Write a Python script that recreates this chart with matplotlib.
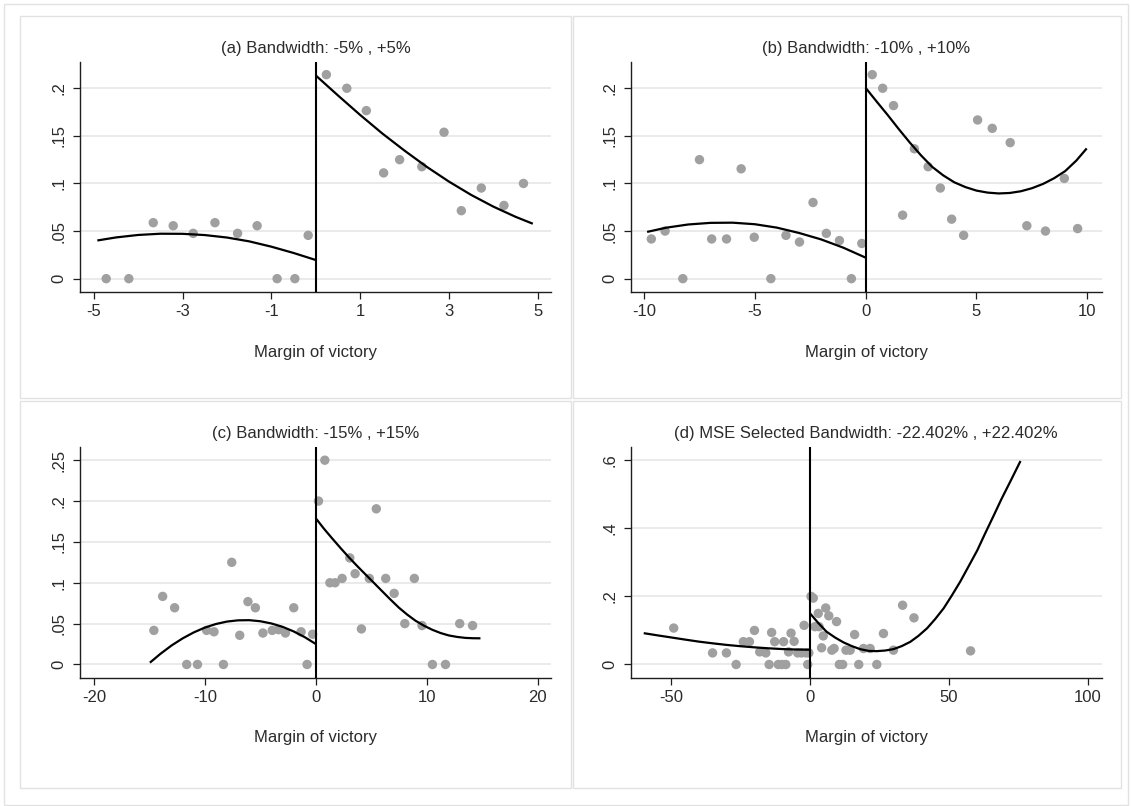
import matplotlib
matplotlib.use("Agg")
import matplotlib.pyplot as plt
from matplotlib.patches import Rectangle

plt.rcParams['font.family'] = ['Liberation Sans', 'DejaVu Sans']

W, H = 1131, 806

# ---------------- Panel (a) ----------------
a_title = "(a) Bandwidth: -5% , +5%"
a_left_x = [-4.72, -4.21, -3.66, -3.21, -2.76, -2.27, -1.76, -1.32, -0.87, -0.47, -0.17]
a_left_y = [0.0, 0.0, 0.0588, 0.0556, 0.0476, 0.0588, 0.0476, 0.0556, 0.0, 0.0, 0.0455]
a_right_x = [0.24, 0.70, 1.14, 1.53, 1.89, 2.39, 2.89, 3.28, 3.73, 4.24, 4.68]
a_right_y = [0.2143, 0.2, 0.1765, 0.1111, 0.125, 0.1176, 0.1538, 0.0714, 0.0952, 0.0769, 0.1]
a_fit_left_x = [-4.92, -4.5, -4.0, -3.5, -3.0, -2.5, -2.0, -1.5, -1.0, -0.5, 0.0]
a_fit_left_y = [0.0401, 0.0433, 0.0459, 0.0472, 0.0471, 0.0458, 0.0432, 0.0392, 0.0336, 0.0270, 0.0196]
a_fit_right_x = [0, 0.5, 1, 1.5, 2, 2.5, 3, 3.5, 4, 4.5, 4.89]
a_fit_right_y = [0.2135, 0.1925, 0.1720, 0.1525, 0.1345, 0.1175, 0.1020, 0.0880, 0.0757, 0.0650, 0.0577]
a_xticks = [-5, -3, -1, 1, 3, 5]
a_xlabels = ["-5", "-3", "-1", "1", "3", "5"]
a_yticks = [0, 0.05, 0.1, 0.15, 0.2]
a_ylabels = ["0", ".05", ".1", ".15", ".2"]

# ---------------- Panel (b) ----------------
b_title = "(b) Bandwidth: -10% , +10%"
b_left_x = [-9.66, -9.04, -8.24, -7.49, -6.94, -6.27, -5.61, -5.02, -4.27, -3.59, -2.98, -2.37, -1.77, -1.18, -0.64, -0.17]
b_left_y = [0.0417, 0.05, 0.0, 0.125, 0.0417, 0.0417, 0.1154, 0.0435, 0.0, 0.0455, 0.0385, 0.08, 0.0476, 0.04, 0.0, 0.037]
b_right_x = [0.30, 0.77, 1.26, 1.67, 2.20, 2.82, 3.37, 3.88, 4.42, 5.05, 5.71, 6.52, 7.27, 8.11, 8.96, 9.56]
b_right_y = [0.2143, 0.2, 0.1818, 0.0667, 0.1364, 0.1176, 0.0952, 0.0625, 0.0455, 0.1667, 0.1579, 0.1429, 0.0556, 0.05, 0.1053, 0.0526]
b_fit_left_x = [-9.85, -9, -8, -7, -6, -5, -4, -3, -2, -1, 0]
b_fit_left_y = [0.0491, 0.0535, 0.0569, 0.0586, 0.0588, 0.0572, 0.0536, 0.0480, 0.0412, 0.0325, 0.0221]
b_fit_right_x = [0, 0.5, 1, 1.5, 2, 2.5, 3, 3.5, 4, 4.5, 5, 5.5, 6, 6.5, 7, 7.5, 8, 8.5, 9, 9.5, 9.97]
b_fit_right_y = [0.2005, 0.1860, 0.1718, 0.1570, 0.1428, 0.1295, 0.1175, 0.1085, 0.1012, 0.0962,
                 0.0925, 0.0904, 0.0895, 0.0900, 0.0918, 0.0950, 0.0995, 0.1055, 0.1130, 0.1240, 0.1368]
b_xticks = [-10, -5, 0, 5, 10]
b_xlabels = ["-10", "-5", "0", "5", "10"]
b_yticks = [0, 0.05, 0.1, 0.15, 0.2]
b_ylabels = ["0", ".05", ".1", ".15", ".2"]

# ---------------- Panel (c) ----------------
c_title = "(c) Bandwidth: -15% , +15%"
c_left_x = [-14.59, -13.80, -12.72, -11.63, -10.66, -9.83, -9.17, -8.32, -7.57, -6.85,
            -6.11, -5.44, -4.76, -3.92, -3.34, -2.73, -1.98, -1.32, -0.78, -0.28]
c_left_y = [0.0417, 0.0833, 0.0694, 0.0, 0.0, 0.0417, 0.04, 0.0, 0.125, 0.0357,
            0.0769, 0.0694, 0.0385, 0.0417, 0.0426, 0.0385, 0.0694, 0.04, 0.0, 0.0370]
c_right_x = [0.25, 0.82, 1.28, 1.74, 2.38, 3.07, 3.55, 4.12, 4.83, 5.46, 6.31, 7.07,
             8.03, 8.89, 9.58, 10.52, 11.70, 12.98, 14.14]
c_right_y = [0.2, 0.25, 0.1, 0.1, 0.1053, 0.1304, 0.1111, 0.0435, 0.1053, 0.1905, 0.1053, 0.0870,
             0.05, 0.1053, 0.0476, 0.0, 0.0, 0.05, 0.0476]
c_fit_left_x = [-14.95, -14, -13, -12, -11, -10, -9, -8, -7, -6, -5, -4, -3, -2, -1, 0]
c_fit_left_y = [0.0022, 0.0130, 0.0232, 0.0319, 0.0392, 0.0451, 0.0495, 0.0525, 0.0540, 0.0542,
                0.0529, 0.0502, 0.0461, 0.0405, 0.0335, 0.0251]
c_fit_right_x = [0, 0.75, 1.5, 2.25, 3, 3.75, 4.5, 5.25, 6, 6.75, 7.5, 8.25, 9, 9.75, 10.5,
                 11.25, 12, 12.75, 13.5, 14.2, 14.85]
c_fit_right_y = [0.179, 0.166, 0.154, 0.1423, 0.131, 0.1203, 0.110, 0.0998, 0.0895, 0.0793,
                 0.0695, 0.061, 0.0535, 0.0475, 0.0425, 0.0385, 0.0355, 0.0337, 0.0325, 0.0321, 0.0320]
c_xticks = [-20, -10, 0, 10, 20]
c_xlabels = ["-20", "-10", "0", "10", "20"]
c_yticks = [0, 0.05, 0.1, 0.15, 0.2, 0.25]
c_ylabels = ["0", ".05", ".1", ".15", ".2", ".25"]

# ---------------- Panel (d) ----------------
d_title = "(d) MSE Selected Bandwidth: -22.402% , +22.402%"
d_left_x = [-49.2, -35.2, -30.2, -26.7, -24.1, -21.9, -20.1, -18.2, -16.0, -14.8, -13.9, -12.8,
            -11.5, -10.2, -9.6, -8.8, -7.8, -6.9, -5.8, -4.5, -3.1, -2.2, -1.5, -0.9, -0.5]
d_left_y = [0.107, 0.034, 0.034, 0.0, 0.067, 0.067, 0.100, 0.037, 0.034, 0.0, 0.094, 0.067,
            0.0, 0.0, 0.067, 0.0, 0.037, 0.092, 0.068, 0.034, 0.034, 0.115, 0.034, 0.0, 0.034]
d_right_x = [0.3, 1.1, 1.7, 2.9, 3.2, 4.1, 4.7, 5.6, 6.7, 7.8, 8.6, 9.5, 10.5, 11.7, 12.9,
             14.4, 16.0, 17.5, 19.2, 21.6, 24.0, 26.4, 30.0, 33.3, 37.4, 57.8]
d_right_y = [0.200, 0.195, 0.111, 0.150, 0.111, 0.049, 0.084, 0.166, 0.143, 0.042, 0.047, 0.126,
             0.0, 0.0, 0.042, 0.042, 0.088, 0.0, 0.047, 0.047, 0.0, 0.091, 0.042, 0.174, 0.137, 0.040]
d_fit_left_x = [-60, -55, -50, -45, -40, -35, -30, -25, -20, -15, -10, -5, 0]
d_fit_left_y = [0.092, 0.0855, 0.0793, 0.0730, 0.067, 0.0620, 0.0574, 0.0536, 0.0503, 0.0475,
                0.0453, 0.0440, 0.0433]
d_fit_right_x = [0, 3, 5.9, 9, 12, 15, 18, 21, 24, 27, 30, 33, 36.1, 39, 42.1, 45, 48.1, 51,
                 54.1, 57, 60.2, 63, 66.2, 69, 72.2, 75.8]
d_fit_right_y = [0.1495, 0.121, 0.0962, 0.079, 0.0649, 0.054, 0.0451, 0.0400, 0.0392, 0.0410,
                 0.0451, 0.0540, 0.0667, 0.0840, 0.1062, 0.1330, 0.165, 0.202, 0.2437, 0.287,
                 0.335, 0.384, 0.4385, 0.487, 0.5387, 0.5977]
d_xticks = [-50, 0, 50, 100]
d_xlabels = ["-50", "0", "50", "100"]
d_yticks = [0, 0.2, 0.4, 0.6]
d_ylabels = ["0", ".2", ".4", ".6"]

xlabel_text = "Margin of victory"

TEXT = '#2b2b2b'
AXC = '#1e1e1e'
DOT = '#a0a0a0'
GRID = '#e8e8e8'
FRAME = '#e2e2e2'

fig = plt.figure(figsize=(W / 100, H / 100), dpi=100, facecolor='white')


def frame(x0, y0, x1, y1):
    fig.add_artist(Rectangle((x0 / W, 1 - y1 / H), (x1 - x0) / W, (y1 - y0) / H,
                             transform=fig.transFigure, facecolor='none',
                             edgecolor=FRAME, lw=1.0))


frame(3.5, 3.5, 1127.5, 804.5)
frame(20, 16, 571, 398)
frame(572.5, 16, 1121, 398)
frame(20, 401, 571, 788)
frame(572.5, 401, 1121, 788)


def panel(box, xlim, ylim, lx, ly, rx, ry, flx, fly, frx, fry,
          xt, xtl, yt, ytl, title, title_y, xlab_y):
    l, t, r, b = box
    ax = fig.add_axes([l / W, 1 - b / H, (r - l) / W, (b - t) / H])
    ax.set_facecolor('white')
    ax.set_xlim(*xlim)
    ax.set_ylim(*ylim)
    for s in ['top', 'right']:
        ax.spines[s].set_visible(False)
    for s in ['left', 'bottom']:
        ax.spines[s].set_color(AXC)
        ax.spines[s].set_linewidth(1.0)
    ax.set_axisbelow(True)
    ax.yaxis.grid(True, color=GRID, lw=1.3)
    ax.xaxis.grid(False)
    ax.set_xticks(xt)
    ax.set_xticklabels(xtl)
    ax.set_yticks(yt)
    ax.set_yticklabels(ytl, rotation=90, va='center')
    ax.tick_params(axis='x', direction='out', length=5, width=0.9, color=AXC,
                   labelsize=12, labelcolor=TEXT, pad=3.5)
    ax.tick_params(axis='y', direction='out', length=5, width=0.9, color=AXC,
                   labelsize=12, labelcolor=TEXT, pad=4.5)
    ax.scatter(lx, ly, s=46, color=DOT, edgecolors='none', zorder=3)
    ax.scatter(rx, ry, s=46, color=DOT, edgecolors='none', zorder=3)
    ax.plot(flx, fly, color='black', lw=1.6, zorder=4, solid_joinstyle='round',
            solid_capstyle='butt')
    ax.plot(frx, fry, color='black', lw=1.6, zorder=4, solid_joinstyle='round',
            solid_capstyle='butt')
    ax.axvline(0, color='black', lw=1.5, zorder=4)
    cx = (l + r) / 2
    fig.text(cx / W, 1 - title_y / H, title, ha='center', va='center',
             fontsize=12, color=TEXT)
    fig.text(cx / W, 1 - xlab_y / H, xlabel_text, ha='center', va='center',
             fontsize=12, color=TEXT)
    return ax


panel((80, 61.7, 551, 291.7), (-5.31, 5.30), (-0.0137, 0.2279),
      a_left_x, a_left_y, a_right_x, a_right_y,
      a_fit_left_x, a_fit_left_y, a_fit_right_x, a_fit_right_y,
      a_xticks, a_xlabels, a_yticks, a_ylabels, a_title, 48.3, 352.3)

panel((630.7, 61.7, 1101.8, 291.7), (-10.59, 10.65), (-0.0137, 0.2279),
      b_left_x, b_left_y, b_right_x, b_right_y,
      b_fit_left_x, b_fit_left_y, b_fit_right_x, b_fit_right_y,
      b_xticks, b_xlabels, b_yticks, b_ylabels, b_title, 48.3, 352.3)

panel((80, 447.2, 551, 677.7), (-21.25, 21.21), (-0.0162, 0.2659),
      c_left_x, c_left_y, c_right_x, c_right_y,
      c_fit_left_x, c_fit_left_y, c_fit_right_x, c_fit_right_y,
      c_xticks, c_xlabels, c_yticks, c_ylabels, c_title, 433.3, 737.3)

panel((630.7, 447.2, 1101.8, 677.7), (-64.7, 105.1), (-0.0388, 0.6382),
      d_left_x, d_left_y, d_right_x, d_right_y,
      d_fit_left_x, d_fit_left_y, d_fit_right_x, d_fit_right_y,
      d_xticks, d_xlabels, d_yticks, d_ylabels, d_title, 433.3, 737.3)

fig.savefig('out.png', dpi=100, facecolor='white')
